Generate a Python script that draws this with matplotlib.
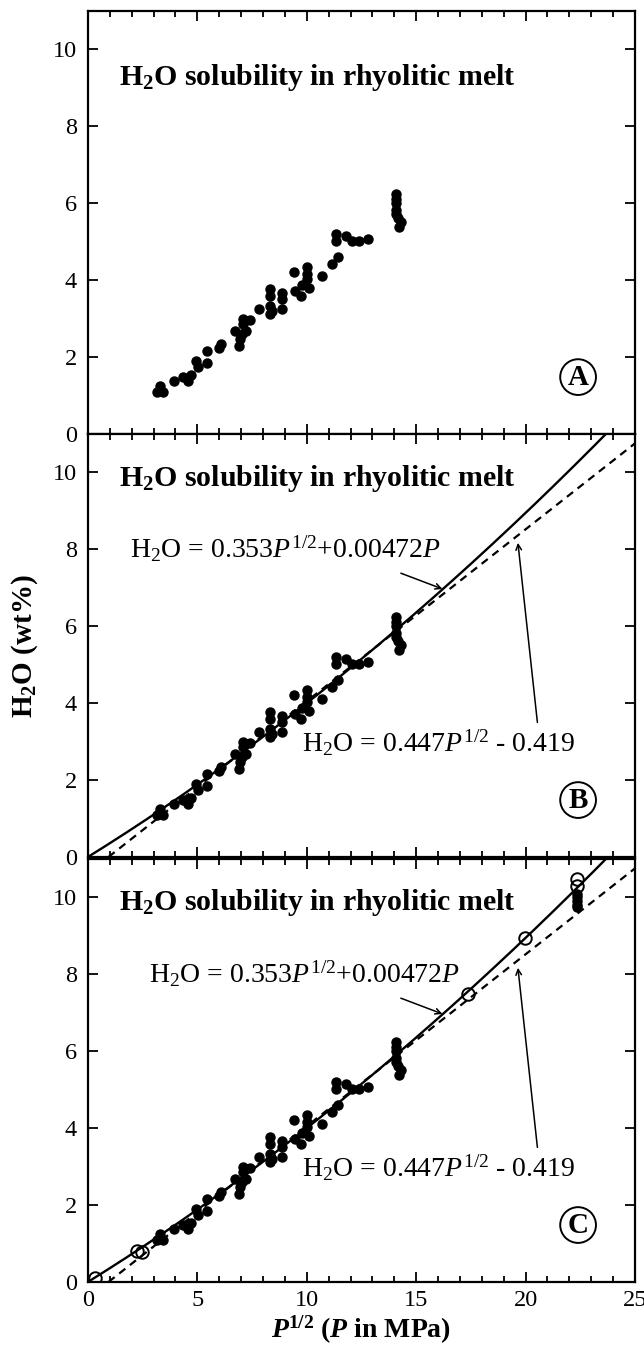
import numpy as np
import matplotlib
matplotlib.use("Agg")
import matplotlib.pyplot as plt

plt.rcParams['font.family'] = ['Liberation Serif', 'DejaVu Serif']
plt.rcParams['mathtext.fontset'] = 'custom'
plt.rcParams['mathtext.rm'] = 'Liberation Serif'
plt.rcParams['mathtext.it'] = 'Liberation Serif:italic'
plt.rcParams['mathtext.bf'] = 'Liberation Serif:bold'
plt.rcParams['mathtext.bfit'] = 'Liberation Serif:bold:italic'

# Experimental solubility data: x = P^(1/2) (P in MPa), y = H2O wt%
sqrtP = [3.17, 3.29, 3.41, 3.94, 4.35, 4.58, 4.70, 4.95, 5.03, 5.44, 5.45,
         5.98, 6.06, 6.70, 6.89, 6.97, 7.08, 7.08, 7.23, 7.41, 7.05, 7.80,
         8.32, 8.32, 8.32, 8.32, 8.39, 8.89, 8.89, 8.89, 9.42, 9.47, 9.73,
         9.77, 10.0, 10.0, 10.0, 10.1, 10.68, 11.17, 11.44, 11.35, 11.35,
         11.77, 12.05, 12.38, 12.80,
         14.1, 14.1, 14.1, 14.1, 14.1, 14.15, 14.3, 14.2]
h2o = [1.09, 1.24, 1.09, 1.37, 1.47, 1.37, 1.54, 1.90, 1.75, 2.15, 1.85,
       2.24, 2.33, 2.68, 2.28, 2.47, 3.00, 2.85, 2.67, 2.97, 2.59, 3.24,
       3.78, 3.59, 3.33, 3.13, 3.20, 3.67, 3.52, 3.24, 4.21, 3.72, 3.59,
       3.87, 4.34, 4.17, 4.02, 3.80, 4.12, 4.41, 4.60, 5.20, 5.03,
       5.14, 5.03, 5.03, 5.08,
       6.25, 6.12, 6.00, 5.82, 5.72, 5.62, 5.52, 5.38]

# Additional high-pressure filled points (panel C)
sqrtP_hp = [22.36, 22.36, 22.36, 22.36, 22.36]
h2o_hp = [10.10, 10.00, 9.90, 9.80, 9.75]

# Open-circle points (panel C)
sqrtP_open = [0.32, 2.25, 2.45, 17.35, 19.97, 22.36, 22.36]
h2o_open = [0.10, 0.80, 0.79, 7.49, 8.94, 10.48, 10.30]

# Fitted relations
quad_a, quad_b = 0.353, 0.00472      # H2O = a P^1/2 + b P
lin_a, lin_b = 0.447, -0.419         # H2O = a P^1/2 + b

title = r"H$_\mathbf{2}$O solubility in rhyolitic melt"
eq_quad = r"H$_2$O = 0.353$P^{1/2}$+0.00472$P$"
eq_lin = r"H$_2$O = 0.447$P^{1/2}$ - 0.419"
panel_tags = ["A", "B", "C"]

fig = plt.figure(figsize=(6.44, 13.47), dpi=100)
left, width, height = 0.1366, 0.8494, 0.3140
bottoms = [0.6778, 0.3638, 0.0483]
axes = [fig.add_axes([left, b, width, height]) for b in bottoms]

xs = np.linspace(0, 25, 400)
y_quad = quad_a * xs + quad_b * xs ** 2
y_lin = lin_a * xs + lin_b

title_y = [9.26, 9.83, 9.86]
eq_x = [None, 1.9, 2.8]

for i, ax in enumerate(axes):
    ax.set_xlim(0, 25)
    ax.set_ylim(0, 11)
    for s in ax.spines.values():
        s.set_linewidth(1.6)
    ax.set_xticks(np.arange(0, 26, 5))
    ax.set_xticks(np.arange(0, 26, 1), minor=True)
    ax.set_yticks(np.arange(0, 11, 2))
    ax.tick_params(which='both', direction='in', top=True, right=True,
                   width=1.3, labelsize=17.5, pad=8)
    ax.tick_params(which='major', length=7)
    ax.tick_params(which='minor', length=4)
    ax.tick_params(axis='y', which='minor', left=False, right=False)
    ax.tick_params(axis='x', pad=6)
    if i < 2:
        ax.tick_params(labelbottom=False)

    if i >= 1:
        ax.plot(xs, y_quad, color='black', lw=1.7, zorder=2)
        m = y_lin >= 0
        ax.plot(xs[m], y_lin[m], color='black', lw=1.6, ls=(0, (3.5, 2.6)),
                zorder=2)

    ax.plot(sqrtP, h2o, 'o', color='black', ms=6.5, zorder=3)

    if i == 2:
        ax.plot(sqrtP_hp, h2o_hp, 'o', color='black', ms=6.5, zorder=3)
        ax.plot(sqrtP_open, h2o_open, 'o', mfc='none', mec='black',
                mew=1.4, ms=9, zorder=4)

    ax.text(1.43, title_y[i], title, fontsize=21.5, fontweight='bold',
            ha='left', va='center')

    if i >= 1:
        ax.text(eq_x[i], 8.02, eq_quad, fontsize=20, ha='left',
                va='center')
        ax.annotate('', xy=(16.2, 6.97), xytext=(14.3, 7.38),
                    arrowprops=dict(arrowstyle='->', lw=1.1, color='black',
                                    shrinkA=0, shrinkB=0))
        ax.text(9.77, 2.97, eq_lin, fontsize=20, ha='left', va='center')
        ax.annotate('', xy=(19.65, 8.17), xytext=(20.54, 3.5),
                    arrowprops=dict(arrowstyle='->', lw=1.1, color='black',
                                    shrinkA=0, shrinkB=0))

    ax.text(22.4, 1.48, panel_tags[i], fontsize=21, fontweight='bold',
            ha='center', va='center',
            bbox=dict(boxstyle='circle,pad=0.15', fc='white', ec='black',
                      lw=1.4))

fig.text(0.561, 0.0125,
         r"$\mathbfit{P}^{\mathbf{1/2}}$ ($\mathbfit{P}$ in MPa)",
         fontsize=20, fontweight='bold', ha='center', va='center')
fig.text(0.038, 0.52, r"H$_\mathbf{2}$O (wt%)", rotation=90, fontsize=21,
         fontweight='bold', ha='center', va='center')

fig.savefig("out.png", dpi=100)
